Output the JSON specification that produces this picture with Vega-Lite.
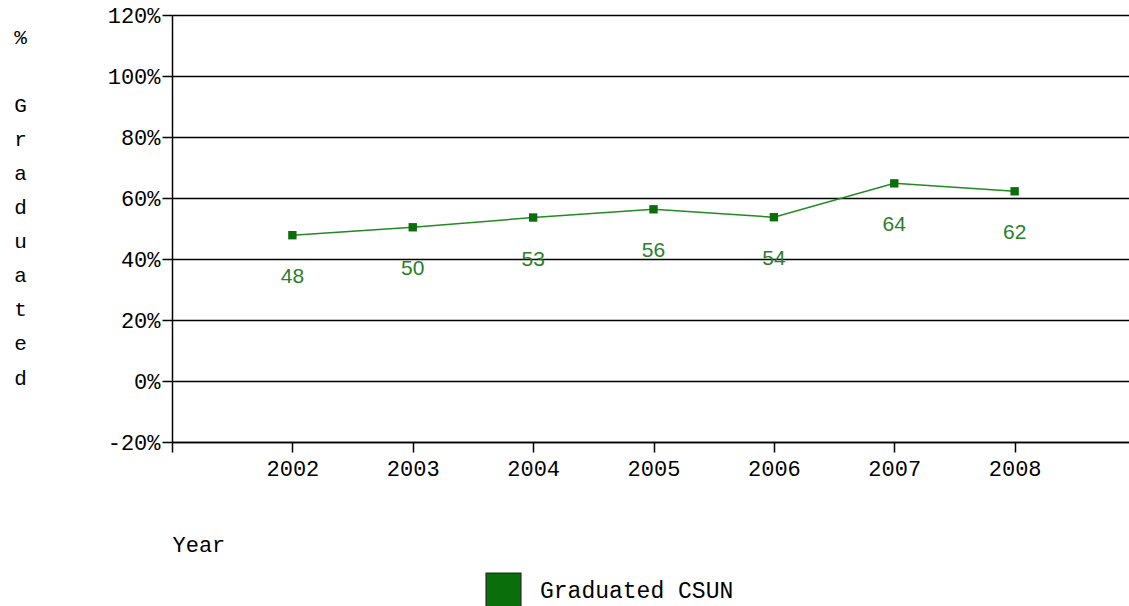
{
  "$schema": "https://vega.github.io/schema/vega-lite/v6.json",
  "autosize": "none",
  "width": 957,
  "height": 427,
  "padding": {"left": 172, "top": 15, "right": 0, "bottom": 164},
  "background": "white",
  "data": {
    "values": [
      {"year": 2002, "pct": 47.8, "label": "48", "series": "Graduated CSUN"},
      {"year": 2003, "pct": 50.4, "label": "50", "series": "Graduated CSUN"},
      {"year": 2004, "pct": 53.6, "label": "53", "series": "Graduated CSUN"},
      {"year": 2005, "pct": 56.3, "label": "56", "series": "Graduated CSUN"},
      {"year": 2006, "pct": 53.7, "label": "54", "series": "Graduated CSUN"},
      {"year": 2007, "pct": 64.8, "label": "64", "series": "Graduated CSUN"},
      {"year": 2008, "pct": 62.2, "label": "62", "series": "Graduated CSUN"}
    ]
  },
  "encoding": {
    "x": {
      "field": "year",
      "type": "quantitative",
      "scale": {"domain": [2001, 2008.95], "nice": false, "zero": false},
      "axis": {
        "title": "Year",
        "titleX": 0,
        "titleY": 109,
        "titleAlign": "left",
        "titleAnchor": "start",
        "titleBaseline": "alphabetic",
        "titleFont": "Liberation Mono",
        "titleFontSize": 22,
        "titleFontWeight": "normal",
        "titleColor": "#000000",
        "values": [2001, 2002, 2003, 2004, 2005, 2006, 2007, 2008],
        "labelExpr": "datum.value == 2001 ? '' : format(datum.value, 'd')",
        "labelFont": "Liberation Mono",
        "labelFontSize": 22,
        "labelColor": "#000000",
        "labelPadding": 6,
        "labelFlush": false,
        "grid": false,
        "domainColor": "#000000",
        "domainWidth": 1.5,
        "tickColor": "#000000",
        "tickSize": 10,
        "tickWidth": 1.5
      }
    },
    "y": {
      "field": "pct",
      "type": "quantitative",
      "scale": {"domain": [-20, 120], "nice": false, "zero": false},
      "axis": {
        "title": ["%", "\u200b", "G", "r", "a", "d", "u", "a", "t", "e", "d"],
        "titleAngle": 0,
        "titleX": -152,
        "titleY": 28,
        "titleAlign": "center",
        "titleBaseline": "alphabetic",
        "titleLineHeight": 34.1,
        "titleFont": "Liberation Mono",
        "titleFontSize": 21,
        "titleFontWeight": "normal",
        "titleColor": "#000000",
        "values": [-20, 0, 20, 40, 60, 80, 100, 120],
        "labelExpr": "datum.value + '%'",
        "labelFont": "Liberation Mono",
        "labelFontSize": 22,
        "labelColor": "#000000",
        "labelPadding": 2,
        "labelFlush": false,
        "grid": true,
        "gridColor": "#000000",
        "gridWidth": 1.5,
        "gridOpacity": 1,
        "domainColor": "#000000",
        "domainWidth": 1.5,
        "tickColor": "#000000",
        "tickSize": 10,
        "tickWidth": 1.5
      }
    }
  },
  "layer": [
    {
      "mark": {"type": "line", "color": "#228a22", "strokeWidth": 1.5},
      "encoding": {}
    },
    {
      "mark": {"type": "point", "shape": "square", "filled": true, "size": 70, "opacity": 1},
      "encoding": {
        "color": {
          "field": "series",
          "type": "nominal",
          "scale": {"range": ["#0a6e0a"]},
          "legend": {
            "title": null,
            "orient": "none",
            "legendX": 313,
            "legendY": 557,
            "padding": 0,
            "symbolType": "square",
            "symbolSize": 1200,
            "symbolFillColor": "#008000",
            "symbolStrokeColor": "#1b3a1b",
            "symbolStrokeWidth": 1.5,
            "symbolOpacity": 1,
            "labelFont": "Liberation Mono",
            "labelFontSize": 23,
            "labelColor": "#000000",
            "labelOffset": 18,
            "labelLimit": 500
          }
        }
      }
    },
    {
      "mark": {"type": "text", "font": "Liberation Sans", "fontSize": 21, "color": "#2a7f2a", "dy": 42, "baseline": "middle", "align": "center"},
      "encoding": {"text": {"field": "label"}}
    }
  ],
  "config": {"view": {"stroke": null}}
}
